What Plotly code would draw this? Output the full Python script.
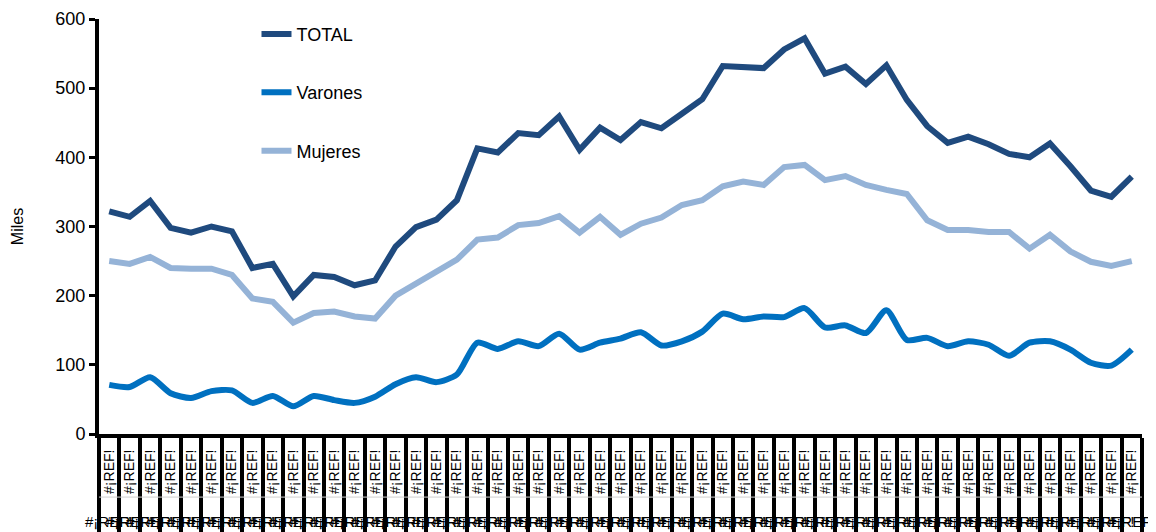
import plotly.graph_objects as go

total = [322, 314, 337, 298, 291, 300, 293, 240, 246, 199, 230, 227, 215, 222, 271, 299, 310, 338,
         413, 407, 435, 432, 459, 411, 443, 425, 451, 442, 463, 484, 532, 531, 529, 556, 572, 521,
         531, 506, 533, 483, 445, 421, 430, 419, 405, 400, 420, 387, 352, 343, 372]
varones = [71, 68, 82, 59, 52, 62, 63, 45, 55, 40, 55, 49, 45, 54, 72, 82, 75, 86,
           132, 123, 134, 127, 145, 122, 132, 138, 147, 128, 134, 148, 174, 166, 170, 169, 182, 154,
           157, 146, 179, 136, 139, 127, 134, 129, 113, 132, 134, 122, 103, 99, 122]
mujeres = [250, 246, 256, 240, 239, 239, 230, 196, 191, 161, 175, 177, 170, 167, 200, 218, 235, 252,
           281, 284, 302, 305, 315, 291, 314, 288, 304, 313, 331, 338, 358, 365, 360, 386, 389, 367,
           373, 360, 353, 347, 309, 295, 295, 292, 292, 268, 288, 264, 249, 243, 250]
inner_labels = ["#¡REF!"] * len(total)
outer_labels = ["#¡REF!"] * len(total)
y_ticks = [0, 100, 200, 300, 400, 500, 600]

x = list(range(len(total)))
FONT = "Liberation Sans"

fig = go.Figure()
fig.add_trace(go.Scatter(x=x, y=total, name="TOTAL", mode="lines", legendgroup="a",
                         line=dict(color="#1F4A7E", width=6)))
fig.add_trace(go.Scatter(x=x, y=varones, name="Varones", mode="lines", legendgroup="b",
                         line=dict(color="#0070C0", width=6, shape="spline", smoothing=0.7)))
fig.add_trace(go.Scatter(x=x, y=mujeres, name="Mujeres", mode="lines", legendgroup="c",
                         line=dict(color="#95B3D7", width=6)))

annotations = []
for i, lab in enumerate(outer_labels):
    annotations.append(dict(x=i, y=-0.21, xref="x", yref="paper", text=lab, showarrow=False,
                            xanchor="center", yanchor="middle",
                            font=dict(family=FONT, size=15, color="black")))

fig.update_layout(
    width=1148, height=524,
    margin=dict(l=91, r=14, t=11, b=98, autoexpand=False),
    paper_bgcolor="white", plot_bgcolor="white",
    font=dict(family=FONT, size=16, color="black"),
    showlegend=True,
    legend=dict(x=0.151, y=1.008, xanchor="left", yanchor="top", bgcolor="rgba(0,0,0,0)",
                font=dict(family=FONT, size=18, color="black"), tracegroupgap=32,
                itemwidth=30),
    annotations=annotations,
    shapes=[dict(type="line", xref="paper", yref="paper", x0=0, x1=1, y0=-0.152, y1=-0.152,
                 line=dict(color="#d0d0d0", width=1))],
    xaxis=dict(
        range=[-0.5, len(total) - 0.5], automargin=False,
        tickmode="array", tickvals=x, ticktext=inner_labels, tickangle=-90,
        ticks="", showgrid=False, zeroline=False, ticklabelstandoff=6,
        showline=True, linecolor="black", linewidth=4,
        tickfont=dict(family=FONT, size=14, color="black"),
        minor=dict(tickmode="linear", tick0=-0.5, dtick=1, ticks="outside",
                   ticklen=100, tickwidth=4, tickcolor="black", showgrid=False),
    ),
    yaxis=dict(
        range=[0, 600], tickmode="array", tickvals=y_ticks, automargin=False,
        ticks="outside", ticklen=6, tickwidth=3, tickcolor="black",
        showgrid=False, zeroline=False,
        showline=True, linecolor="black", linewidth=4,
        tickfont=dict(family=FONT, size=18, color="black"),
        title=dict(text="Miles", font=dict(family=FONT, size=16, color="black"), standoff=29),
    ),
)

fig.write_html("out.html")
